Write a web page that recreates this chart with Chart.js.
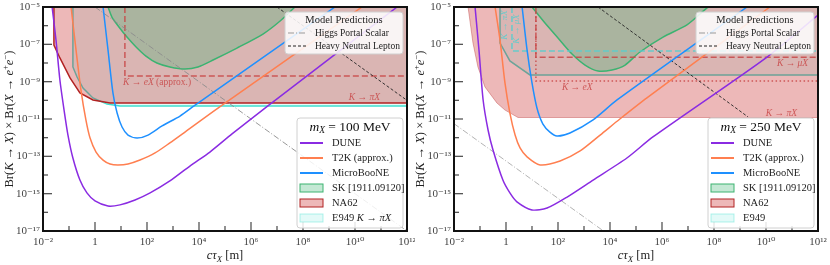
<!DOCTYPE html>
<html>
<head>
<meta charset="utf-8">
<script src="https://cdn.jsdelivr.net/npm/chart.js@4.4.0/dist/chart.umd.min.js"></script>
<style>
  html, body { margin: 0; padding: 0; background: #fff; }
  #wrap { width: 830px; height: 265px; display: flex; }
  canvas { display: block; width: 415px; height: 265px; }
</style>
</head>
<body>
<div id="wrap">
  <canvas id="left" width="415" height="265"></canvas>
  <canvas id="right" width="415" height="265"></canvas>
</div>
<script>
// every point below is [log10(c tau_X / m), log10(Br)]
const xTicks = [-2, -1, 0, 1, 2, 3, 4, 5, 6, 7, 8, 9, 10, 11, 12];
const xLabels = ["10⁻²", "", "1", "", "10²", "", "10⁴", "", "10⁶", "", "10⁸", "", "10¹⁰", "", "10¹²"];
const yTicks = [-17, -16, -15, -14, -13, -12, -11, -10, -9, -8, -7, -6, -5];
const yLabels = ["10⁻¹⁷", "", "10⁻¹⁵", "", "10⁻¹³", "", "10⁻¹¹", "", "10⁻⁹", "", "10⁻⁷", "", "10⁻⁵"];

// m_X = 100 MeV
const duneL = [[-1.65, -5], [-1.5, -6.77], [-1.35, -8.91], [-1.19, -10.52], [-1.04, -11.86], [-0.85, -13.09],
  [-0.58, -14.27], [-0.31, -14.96], [0, -15.39], [0.5, -15.66], [0.96, -15.6], [1.54, -15.34], [2.12, -14.96],
  [2.88, -14.32], [3.65, -13.52], [4.42, -12.77], [5.27, -11.8], [6.65, -10.3], [11.62, -5]];
const t2kL = [[-0.92, -5], [-0.73, -7.3], [-0.54, -9.45], [-0.35, -11.05], [-0.19, -12.02], [0.04, -12.77],
  [0.31, -13.2], [0.58, -13.41], [0.88, -13.46], [1.27, -13.41], [1.73, -13.2], [2.31, -12.82], [2.88, -12.28],
  [3.46, -11.7], [4.85, -10.3], [10.27, -5]];
const ubooneL = [[0.31, -5], [0.5, -7.3], [0.69, -9.6], [0.85, -10.68], [1.04, -11.43], [1.27, -11.86],
  [1.62, -12.02], [2.04, -11.86], [2.58, -11.37], [3.27, -10.84], [3.81, -10.3], [9.23, -5]];
const skL = [[0.5, -5], [0.65, -5.54], [0.92, -6.07], [1.23, -6.61], [1.58, -7.14], [1.96, -7.63], [2.38, -8.0],
  [2.88, -8.21], [3.46, -8.32], [3.96, -8.21], [4.54, -7.84], [5.46, -7.2], [6.46, -6.45], [7.12, -5.75], [7.69, -5]];
const na62L = [[-1.58, -5], [-1.58, -7.04], [-1.35, -7.73], [-0.96, -8.8], [-0.58, -9.6], [-0.08, -9.98],
  [0.58, -10.14], [12, -10.14]];
const e949L = [[-0.85, -5], [-0.85, -8.21], [-0.69, -8.75], [-0.46, -9.34], [-0.08, -9.87], [0.46, -10.2],
  [0.96, -10.3], [12, -10.3]];
const eApproxL = [[1.15, -5], [1.15, -8.7], [12, -8.7]];
const higgsL = [[0, -5], [12, -17]];
const hnlL = [[7, -5], [12, -10]];

// m_X = 250 MeV
const duneR = [[-1.19, -5], [-1.04, -7.3], [-0.88, -9.98], [-0.69, -11.59], [-0.5, -12.66], [-0.12, -14.27],
  [0.15, -14.96], [0.42, -15.44], [1.0, -15.87], [1.58, -15.77], [2.35, -15.18], [3.35, -14.27], [4.65, -13.09],
  [5.65, -11.96], [10.04, -7.68], [12, -5.43]];
const t2kR = [[-0.42, -5], [-0.23, -6.77], [-0.04, -9.07], [0.15, -10.68], [0.35, -11.86], [0.54, -12.55],
  [0.81, -13.03], [1.31, -13.46], [2.08, -13.25], [2.85, -12.71], [3.62, -11.86], [4.38, -11.0], [5.42, -9.87],
  [10.15, -5]];
const ubooneR = [[0.62, -5], [0.81, -7.3], [1.0, -9.07], [1.19, -10.41], [1.42, -11.27], [1.69, -11.7],
  [1.96, -11.91], [2.46, -11.75], [3.35, -11.05], [4.27, -9.98], [9.27, -5]];
const skR = [[1.0, -5], [1.5, -5.86], [2.0, -6.66], [2.54, -7.52], [3.04, -8.11], [3.54, -8.43], [4.08, -8.37],
  [4.58, -8.11], [5.15, -7.41], [6.04, -6.61], [6.96, -5.96], [7.73, -5.05], [7.8, -5]];
const na62R = [[-1.46, -5], [-1.27, -6.93], [-1.08, -8.21], [-0.81, -9.28], [-0.35, -10.14], [-0.04, -10.52],
  [0.46, -10.92], [12, -10.92]];
const e949R = [[-0.23, -5], [-0.23, -6.93], [0.15, -7.89], [0.92, -8.64], [12, -8.64]];
const muCyanR = [[0.23, -5], [0.23, -7.36], [12, -7.36]];
const muRedR = [[1.15, -5], [1.15, -7.69], [12, -7.69]];
const eDotR = [[1.15, -5.3], [1.15, -8.96], [12, -8.96]];
const higgsR = [[-2, -11.25], [3.75, -17]];
const hnlR = [[3.54, -5], [9.31, -10.89]];

const FONT = '"Liberation Serif", "DejaVu Serif", serif';
const RED = "rgba(200, 70, 70, 0.85)";
const CYAN = "rgba(90, 205, 205, 0.9)";

const pts = arr => arr.map(([lx, ly]) => ({ x: 10 ** lx, y: 10 ** ly }));

const ds = (data, color, extra) => ({
  data: pts(data), borderColor: color, borderWidth: 1.5, pointRadius: 0, fill: false, tension: 0, ...extra
});

const font = (size, italic) => `${italic ? "italic " : ""}${size}px ${FONT}`;

// parts: [text, style]; style letters: i = italic, b = subscript, p = superscript
function rich(ctx, parts, x, y, size, align) {
  const seg = parts.map(([t, s = ""]) => {
    const small = s.includes("b") || s.includes("p");
    const f = font(small ? size * 0.7 : size, s.includes("i"));
    ctx.font = f;
    const dy = s.includes("b") ? size * 0.28 : s.includes("p") ? -size * 0.32 : 0;
    return { t, f, dy, w: ctx.measureText(t).width };
  });
  const total = seg.reduce((acc, s) => acc + s.w, 0);
  let cx = align === "center" ? x - total / 2 : align === "right" ? x - total : x;
  ctx.textAlign = "left";
  ctx.textBaseline = "middle";
  seg.forEach(s => {
    ctx.font = s.f;
    ctx.fillText(s.t, cx, y + s.dy);
    cx += s.w;
  });
}

function box(ctx, x0, y0, x1, y1) {
  ctx.beginPath();
  ctx.roundRect(x0, y0, x1 - x0, y1 - y0, 3);
  ctx.fillStyle = "rgba(255,255,255,0.85)";
  ctx.fill();
  ctx.strokeStyle = "#d0d0d0";
  ctx.lineWidth = 1;
  ctx.stroke();
}

function makeDeco(cfg) {
  return {
    id: "deco",
    afterDraw(chart) {
      const { ctx, chartArea: a, scales: { x, y } } = chart;
      const px = v => x.getPixelForValue(10 ** v);
      const py = v => y.getPixelForValue(10 ** v);
      ctx.save();

      // inward ticks
      ctx.strokeStyle = "#555";
      ctx.lineWidth = 1.3;
      xTicks.forEach((v, i) => {
        const len = xLabels[i] ? 9 : 5;
        ctx.beginPath();
        ctx.moveTo(px(v), a.bottom);
        ctx.lineTo(px(v), a.bottom - len);
        ctx.stroke();
      });
      yTicks.forEach((v, i) => {
        const len = yLabels[i] ? 9 : 5;
        ctx.beginPath();
        ctx.moveTo(a.left, py(v));
        ctx.lineTo(a.left + len, py(v));
        ctx.stroke();
      });

      // in-plot labels
      cfg.notes.forEach(n => {
        ctx.fillStyle = n.color;
        if (n.rotate) {
          ctx.save();
          ctx.translate(px(n.at[0]), py(n.at[1]));
          ctx.rotate(-Math.PI / 2);
          rich(ctx, n.parts, 0, 0, n.size, "center");
          ctx.restore();
        } else {
          rich(ctx, n.parts, px(n.at[0]), py(n.at[1]), n.size, n.align);
        }
      });

      // model predictions legend
      box(ctx, a.right - 122, a.top + 5, a.right - 4, a.top + 47);
      ctx.fillStyle = "#222";
      rich(ctx, [["Model Predictions"]], a.right - 63, a.top + 13, 10.5, "center");
      const models = [
        { label: "Higgs Portal Scalar", color: "#999", dash: [6, 2, 1, 2] },
        { label: "Heavy Neutral Lepton", color: "#222", dash: [3, 2] }
      ];
      models.forEach((m, i) => {
        const yy = a.top + 26 + i * 13;
        ctx.strokeStyle = m.color;
        ctx.lineWidth = 1;
        ctx.setLineDash(m.dash);
        ctx.beginPath();
        ctx.moveTo(a.right - 119, yy);
        ctx.lineTo(a.right - 100, yy);
        ctx.stroke();
        ctx.setLineDash([]);
        ctx.fillStyle = "#222";
        rich(ctx, [[m.label]], a.right - 92, yy, 9.5, "left");
      });

      // experiments legend
      box(ctx, a.right - 110, 118, a.right - 4, 228);
      ctx.fillStyle = "#111";
      rich(ctx, [["m", "i"], ["X", "ib"], [" = " + cfg.mass + " MeV"]], a.right - 57, 127, 13.5, "center");
      cfg.legend.forEach((e, i) => {
        const yy = 143 + i * 15;
        if (e.fill) {
          ctx.fillStyle = e.fill;
          ctx.fillRect(a.right - 107, yy - 4, 23, 8);
          ctx.strokeStyle = e.color;
          ctx.lineWidth = 1;
          ctx.strokeRect(a.right - 107, yy - 4, 23, 8);
        } else {
          ctx.strokeStyle = e.color;
          ctx.lineWidth = 2;
          ctx.beginPath();
          ctx.moveTo(a.right - 107, yy);
          ctx.lineTo(a.right - 84, yy);
          ctx.stroke();
        }
        ctx.fillStyle = "#222";
        rich(ctx, e.parts, a.right - 75, yy, 10.5, "left");
      });

      // frame
      ctx.strokeStyle = "#111";
      ctx.lineWidth = 2;
      ctx.strokeRect(a.left, a.top, a.width, a.height);

      // axis titles
      ctx.fillStyle = "#222";
      rich(ctx, [["c", "i"], ["τ", "i"], ["X", "ib"], [" [m]"]], (a.left + a.right) / 2, 256, 12.5, "center");
      ctx.save();
      ctx.translate(a.left - 33, (a.top + a.bottom) / 2);
      ctx.rotate(-Math.PI / 2);
      rich(ctx, [["Br("], ["K", "i"], [" → "], ["X", "i"], [") × Br("], ["X", "i"], [" → "], ["e", "i"], ["+", "p"],
        ["e", "i"], ["−", "p"], [")"]], 0, 0, 12.5, "center");
      ctx.restore();

      ctx.restore();
    }
  };
}

function buildPanel(id, cfg) {
  const tickFont = { family: FONT, size: 11 };
  return new Chart(document.getElementById(id), {
    type: "line",
    data: { datasets: cfg.datasets },
    options: {
      responsive: false,
      animation: false,
      events: [],
      layout: { padding: { top: 7, right: cfg.padRight, left: 0, bottom: 0 } },
      plugins: { legend: { display: false }, tooltip: { enabled: false } },
      scales: {
        x: {
          type: "logarithmic", min: 1e-2, max: 1e12,
          afterBuildTicks: s => { s.ticks = xTicks.map(v => ({ value: 10 ** v })); },
          afterFit: s => { s.height = 34; s.paddingLeft = 0; s.paddingRight = 0; },
          grid: { display: false, drawTicks: false },
          border: { display: false },
          ticks: { autoSkip: false, maxRotation: 0, padding: 5, color: "#444", font: tickFont,
            callback: (v, i) => xLabels[i] }
        },
        y: {
          type: "logarithmic", min: 1e-17, max: 1e-5,
          afterBuildTicks: s => { s.ticks = yTicks.map(v => ({ value: 10 ** v })); },
          afterFit: s => { s.width = cfg.yWidth; s.paddingTop = 0; s.paddingBottom = 0; },
          grid: { display: false, drawTicks: false },
          border: { display: false },
          ticks: { autoSkip: false, padding: 3, color: "#444", font: tickFont,
            callback: (v, i) => yLabels[i] }
        }
      }
    },
    plugins: [makeDeco(cfg)]
  });
}

const e949Fill = "rgba(64, 224, 208, 0.15)";
const na62Fill = "rgba(200, 40, 40, 0.33)";
const skFill = "rgba(60, 179, 113, 0.3)";

const curves = (dune, t2k, uboone) => [
  ds(dune, "#8a2be2", { order: 1, tension: 0.25 }),
  ds(t2k, "#ff7f50", { order: 2, tension: 0.25 }),
  ds(uboone, "#1e90ff", { order: 3, tension: 0.25 })
];

const legendItems = lastLabel => [
  { parts: [["DUNE"]], color: "#8a2be2" },
  { parts: [["T2K (approx.)"]], color: "#ff7f50" },
  { parts: [["MicroBooNE"]], color: "#1e90ff" },
  { parts: [["SK [1911.09120]"]], color: "#3cb371", fill: skFill },
  { parts: [["NA62"]], color: "#b22222", fill: na62Fill },
  { parts: lastLabel, color: "rgba(64, 224, 208, 0.4)", fill: e949Fill }
];

buildPanel("left", {
  mass: 100, yWidth: 43, padRight: 8,
  datasets: [
    ds(e949L, "#40e0d0", { fill: "end", backgroundColor: e949Fill, order: 60 }),
    ds(na62L, "#b22222", { fill: "end", backgroundColor: na62Fill, order: 50 }),
    ds(skL, "#3cb371", { fill: "end", backgroundColor: skFill, order: 40, tension: 0.25 }),
    ds(eApproxL, RED, { borderDash: [6, 3], order: 30 }),
    ds(higgsL, "#8c8c8c", { borderWidth: 0.9, borderDash: [6, 2, 1, 2], order: 20 }),
    ds(hnlL, "#222", { borderWidth: 0.9, borderDash: [3, 2], order: 20 }),
    ...curves(duneL, t2kL, ubooneL)
  ],
  notes: [
    { parts: [["K", "i"], [" → "], ["e", "i"], ["X", "i"], [" (approx.)"]], at: [1.08, -9.02], size: 9.5, align: "left", color: RED },
    { parts: [["K", "i"], [" → "], ["π", "i"], ["X", "i"]], at: [10.96, -9.87], size: 9.5, align: "right", color: RED }
  ],
  legend: legendItems([["E949 "], ["K", "i"], [" → "], ["π", "i"], ["X", "i"]])
});

buildPanel("right", {
  mass: 250, yWidth: 39, padRight: 12,
  datasets: [
    ds(e949R, "#40e0d0", { fill: "end", backgroundColor: e949Fill, order: 60 }),
    ds(na62R, "rgba(178, 34, 34, 0.35)", { borderWidth: 1, fill: "end", backgroundColor: na62Fill, order: 50 }),
    ds(skR, "#3cb371", { fill: "end", backgroundColor: skFill, order: 40, tension: 0.25 }),
    ds(muCyanR, CYAN, { borderDash: [6, 3], order: 30 }),
    ds(muRedR, RED, { borderDash: [6, 3], order: 30 }),
    ds(eDotR, RED, { borderDash: [1.5, 2.5], order: 30 }),
    ds(higgsR, "#aaa", { borderWidth: 0.9, borderDash: [6, 2, 1, 2], order: 20 }),
    ds(hnlR, "#222", { borderWidth: 0.9, borderDash: [3, 2], order: 20 }),
    ...curves(duneR, t2kR, ubooneR)
  ],
  notes: [
    { parts: [["K", "i"], [" → "], ["μ", "i"], ["X", "i"]], at: [11.62, -8.0], size: 9.5, align: "right", color: RED },
    { parts: [["K", "i"], [" → "], ["π", "i"], ["X", "i"]], at: [11.19, -10.68], size: 9.5, align: "right", color: RED },
    { parts: [["K", "i"], [" → "], ["e", "i"], ["X", "i"]], at: [2.15, -9.29], size: 9.5, align: "left", color: RED },
    { parts: [["K", "i"], [" → "], ["π", "i"], ["X", "i"]], at: [-0.04, -5.96], size: 9, rotate: true, color: CYAN },
    { parts: [["K", "i"], [" → "], ["μ", "i"], ["X", "i"]], at: [0.42, -6.18], size: 9, rotate: true, color: CYAN }
  ],
  legend: legendItems([["E949"]])
});
</script>
</body>
</html>
